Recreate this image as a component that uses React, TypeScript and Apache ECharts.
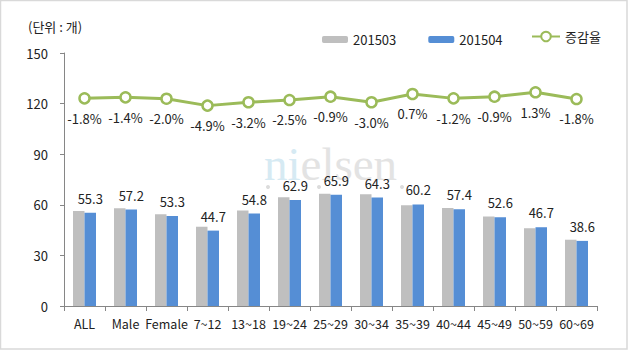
import React, { useEffect, useRef } from "react";
import * as echarts from "echarts";

const categories = ["ALL", "Male", "Female", "7~12", "13~18", "19~24", "25~29", "30~34", "35~39", "40~44", "45~49", "50~59", "60~69"];
const values201503 = [56.3, 58.0, 54.4, 47.0, 56.6, 64.5, 66.5, 66.3, 59.8, 58.1, 53.1, 46.1, 39.3];
const values201504 = [55.3, 57.2, 53.3, 44.7, 54.8, 62.9, 65.9, 64.3, 60.2, 57.4, 52.6, 46.7, 38.6];
const rateLabels = ["-1.8%", "-1.4%", "-2.0%", "-4.9%", "-3.2%", "-2.5%", "-0.9%", "-3.0%", "0.7%", "-1.2%", "-0.9%", "1.3%", "-1.8%"];
const rateLinePos = [123.1, 123.7, 122.9, 118.8, 120.8, 122.1, 124.1, 120.8, 125.7, 123.1, 124.1, 126.7, 122.7];
const yTicks = { min: 0, max: 150, interval: 30 };

const FONT = "'Noto Sans CJK KR', 'Noto Sans', sans-serif";

export default function App() {
  const ref = useRef<HTMLDivElement>(null);
  useEffect(() => {
    if (!ref.current) return;
    const chart = echarts.init(ref.current, null, { renderer: "svg" });
    chart.setOption({
      animation: false,
      backgroundColor: "#ffffff",
      textStyle: { fontFamily: FONT },
      graphic: [
        {
          type: "rect",
          shape: { x: 0.5, y: 0.5, width: 626.5, height: 348.5 },
          style: { fill: "none", stroke: "#d9d9d9", lineWidth: 1.5 },
          silent: true,
        },
        {
          type: "text",
          left: 28,
          top: 20,
          style: { text: "(단위 : 개)", font: `13px ${FONT}`, fill: "#222" },
        },
        {
          type: "text",
          left: 264,
          top: 140,
          z: -1,
          style: {
            text: "{a|ni}{b|elsen}",
            rich: {
              a: { fontFamily: "'Liberation Serif', serif", fontSize: 47, lineHeight: 28, fill: "#d6eaf3" },
              b: { fontFamily: "'Liberation Serif', serif", fontSize: 47, lineHeight: 28, fill: "#e3e3e3" },
            },
          },
        },
        { type: "circle", z: -1, shape: { cx: 268, cy: 187, r: 2 }, style: { fill: "#dcdcdc" } },
        { type: "circle", z: -1, shape: { cx: 319, cy: 187, r: 2 }, style: { fill: "#dcdcdc" } },
        { type: "circle", z: -1, shape: { cx: 402, cy: 187, r: 2 }, style: { fill: "#dcdcdc" } },
      ],
      legend: [
        {
          top: 28,
          left: 317,
          itemWidth: 26,
          itemHeight: 7,
          itemGap: 32,
          textStyle: { fontSize: 13, color: "#222", fontFamily: FONT },
          data: ["201503", "201504"],
        },
        {
          top: 25,
          left: 526,
          itemWidth: 28,
          itemHeight: 12,
          textStyle: { fontSize: 13, color: "#222", fontFamily: FONT },
          data: ["증감율"],
        },
      ],
      grid: { left: 64, right: 32, top: 53, bottom: 46, containLabel: false },
      xAxis: {
        type: "category",
        data: categories,
        axisLine: { lineStyle: { color: "#868686", width: 1 } },
        axisTick: { show: true, length: 5, lineStyle: { color: "#868686" } },
        axisLabel: { color: "#222", fontSize: 12.5, margin: 11, interval: 0, fontFamily: FONT },
      },
      yAxis: {
        type: "value",
        min: yTicks.min,
        max: yTicks.max,
        interval: yTicks.interval,
        axisLine: { show: true, lineStyle: { color: "#868686", width: 1 } },
        axisTick: { show: true, length: 4, lineStyle: { color: "#868686" } },
        splitLine: { show: false },
        axisLabel: { color: "#222", fontSize: 13, margin: 16, fontFamily: FONT },
      },
      series: [
        {
          name: "201503",
          type: "bar",
          data: values201503,
          barWidth: 11.5,
          barGap: "0%",
          itemStyle: { color: "#bfbfbf" },
        },
        {
          name: "201504",
          type: "bar",
          data: values201504,
          barWidth: 11.5,
          barGap: "0%",
          itemStyle: { color: "#558ed5" },
          label: {
            show: true,
            position: "top",
            distance: 8,
            color: "#222",
            fontSize: 13,
            fontFamily: FONT,
          },
        },
        {
          name: "증감율",
          type: "line",
          data: rateLinePos,
          symbol: "circle",
          symbolSize: 10,
          itemStyle: { color: "#ffffff", borderColor: "#9bbb59", borderWidth: 2.5 },
          lineStyle: { color: "#9bbb59", width: 3 },
          z: 5,
          label: {
            show: true,
            position: "bottom",
            distance: 7,
            color: "#222",
            fontSize: 13,
            fontFamily: FONT,
            formatter: (p: any) => rateLabels[p.dataIndex],
          },
        },
      ],
    });
    return () => chart.dispose();
  }, []);
  return <div ref={ref} style={{ position: "fixed", left: 0, top: 0, width: 629, height: 352 }} />;
}
